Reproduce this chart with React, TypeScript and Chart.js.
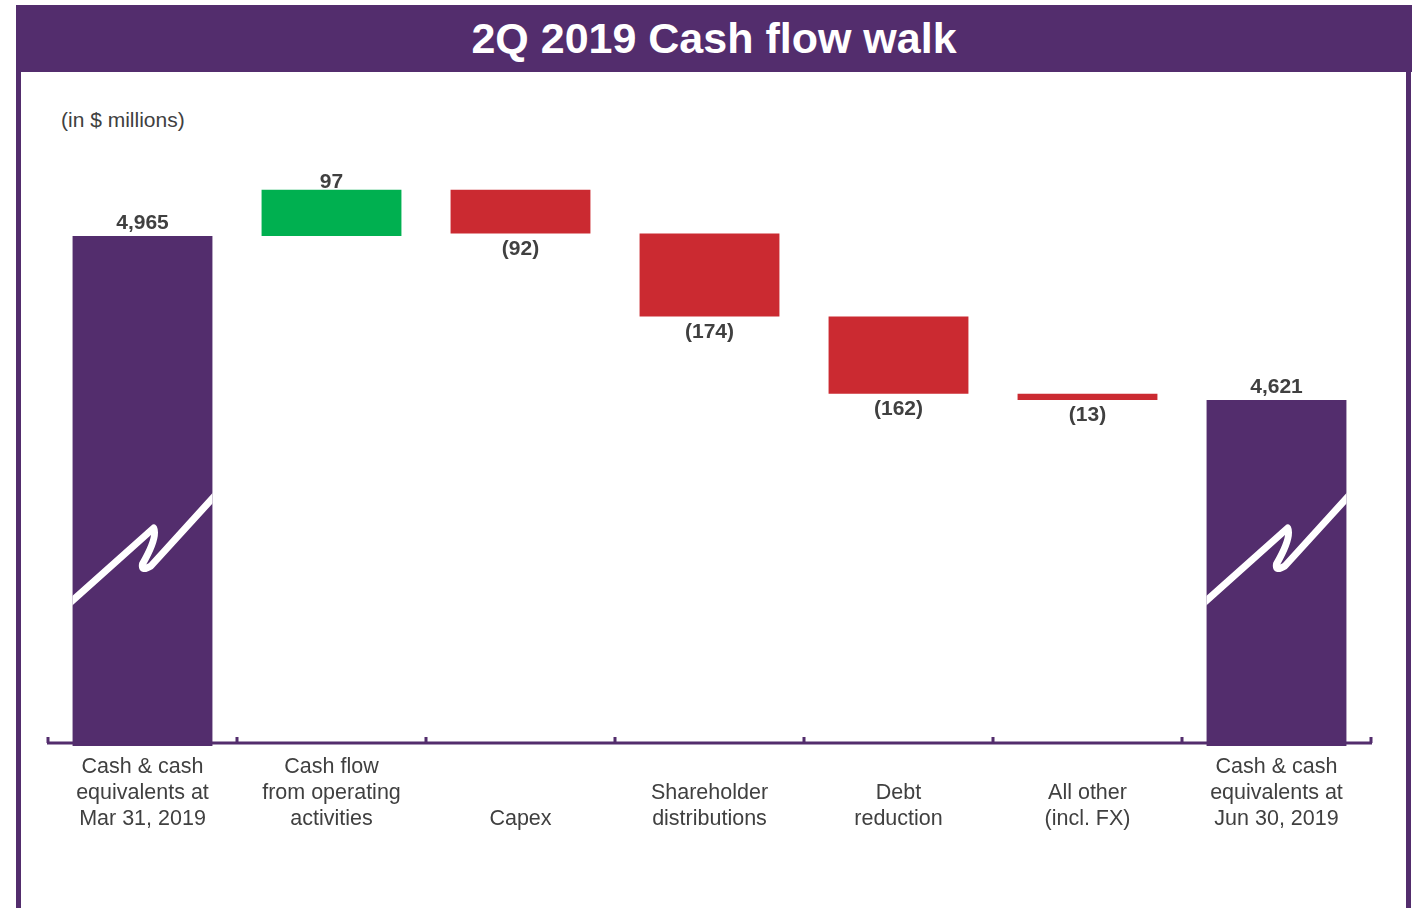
import React, { useEffect, useRef } from "react";
import { Chart, registerables } from "chart.js";

Chart.register(...registerables);

// ---- data ----
const categories: string[][] = [
  ["Cash & cash", "equivalents at", "Mar 31, 2019"],
  ["Cash flow", "from operating", "activities"],
  ["Capex"],
  ["Shareholder", "distributions"],
  ["Debt", "reduction"],
  ["All other", "(incl. FX)"],
  ["Cash & cash", "equivalents at", "Jun 30, 2019"],
];
const changes: number[] = [4965, 97, -92, -174, -162, -13, 4621];
const isTotal: boolean[] = [true, false, false, false, false, false, true];
const valueLabels: string[] = ["4,965", "97", "(92)", "(174)", "(162)", "(13)", "4,621"];
const AXIS_MIN = 3895;
const AXIS_MAX = 5200;

const TITLE = "2Q 2019 Cash flow walk";
const UNITS = "(in $ millions)";

// ---- styles ----
const PURPLE = "#532D6D";
const GREEN = "#00B050";
const RED = "#CB2A31";
const TEXT = "#404040";
const FONT = "'Liberation Sans', Arial, Helvetica, sans-serif";

function buildRanges(): [number, number][] {
  let running = 0;
  return changes.map((v, i) => {
    if (isTotal[i]) {
      running = v;
      return [AXIS_MIN, v] as [number, number];
    }
    const start = running;
    running += v;
    return [Math.min(start, running), Math.max(start, running)] as [number, number];
  });
}

const paddedLabels = categories.map((c) => [...Array(3 - c.length).fill(""), ...c]);

const waterfallDecor = {
  id: "waterfallDecor",
  afterDatasetsDraw(chart: any) {
    const ctx: CanvasRenderingContext2D = chart.ctx;
    const area = chart.chartArea;
    const meta = chart.getDatasetMeta(0);
    const xScale = chart.scales.x;

    // break marks on totals
    meta.data.forEach((bar: any, i: number) => {
      if (!isTotal[i]) return;
      const w = bar.width;
      const x0 = bar.x - w / 2;
      const yb = area.bottom - 146;
      ctx.save();
      ctx.beginPath();
      ctx.rect(x0, bar.y, w, bar.base - bar.y);
      ctx.clip();
      ctx.strokeStyle = "#ffffff";
      ctx.lineWidth = 7;
      ctx.lineJoin = "round";
      ctx.lineCap = "round";
      ctx.beginPath();
      ctx.moveTo(x0 - 4, yb + 4);
      ctx.lineTo(x0 + 0.58 * w, yb - 72);
      ctx.quadraticCurveTo(x0 + 0.61 * w, yb - 63, x0 + 0.5 * w, yb - 36);
      ctx.quadraticCurveTo(x0 + 0.49 * w, yb - 28, x0 + 0.56 * w, yb - 34);
      ctx.lineTo(x0 + w + 4, yb - 106);
      ctx.stroke();
      ctx.restore();
    });

    // axis line with upward ticks
    const axisY = area.bottom - 3;
    const n = categories.length;
    const step = (area.right - area.left) / n;
    ctx.save();
    ctx.strokeStyle = PURPLE;
    ctx.fillStyle = PURPLE;
    ctx.lineWidth = 3;
    ctx.beginPath();
    ctx.moveTo(area.left - 1, axisY);
    ctx.lineTo(area.right + 1, axisY);
    ctx.stroke();
    for (let k = 0; k <= n; k++) {
      const x = k < n ? xScale.getPixelForValue(k) - step / 2 : xScale.getPixelForValue(n - 1) + step / 2;
      ctx.fillRect(x - 1.5, axisY - 6, 3, 6);
    }
    ctx.restore();

    // value labels
    ctx.save();
    ctx.font = `bold 21px ${FONT}`;
    ctx.fillStyle = TEXT;
    ctx.textAlign = "center";
    ctx.textBaseline = "alphabetic";
    meta.data.forEach((bar: any, i: number) => {
      const top = Math.min(bar.y, bar.base);
      const bottom = Math.max(bar.y, bar.base);
      if (changes[i] >= 0) {
        const off = isTotal[i] ? 7 : 2;
        ctx.fillText(valueLabels[i], bar.x, top - off);
      } else {
        ctx.fillText(valueLabels[i], bar.x, bottom + 21);
      }
    });
    ctx.restore();
  },
};

export default function App() {
  const ref = useRef<HTMLCanvasElement | null>(null);

  useEffect(() => {
    if (!ref.current) return;
    const ranges = buildRanges();
    const colors = changes.map((v, i) => (isTotal[i] ? PURPLE : v >= 0 ? GREEN : RED));
    const chart = new Chart(ref.current, {
      type: "bar",
      data: {
        labels: paddedLabels as any,
        datasets: [
          {
            data: ranges as any,
            backgroundColor: colors,
            borderWidth: 0,
            categoryPercentage: 1,
            barPercentage: 0.74,
          },
        ],
      },
      options: {
        responsive: false,
        animation: false,
        devicePixelRatio: 1,
        layout: { padding: { left: 48, right: 51, top: 124, bottom: 0 } },
        plugins: { legend: { display: false }, tooltip: { enabled: false }, title: { display: false } },
        scales: {
          y: {
            display: false,
            min: AXIS_MIN,
            max: AXIS_MAX,
          },
          x: {
            grid: { display: false, drawTicks: false },
            border: { display: false },
            ticks: {
              color: TEXT,
              font: { family: FONT, size: 21.5, lineHeight: 1.22 },
              padding: 8,
              maxRotation: 0,
              autoSkip: false,
            },
            afterFit: (scale: any) => {
              scale.height = 162;
            },
          },
        },
      },
      plugins: [waterfallDecor],
    });
    return () => chart.destroy();
  }, []);

  return (
    <div
      style={{
        position: "absolute",
        left: 0,
        top: 0,
        width: 1422,
        height: 908,
        background: "#ffffff",
        overflow: "hidden",
        fontFamily: FONT,
      }}
    >
      <div
        style={{
          position: "absolute",
          left: 16,
          top: 5,
          width: 1396,
          height: 67,
          background: PURPLE,
          color: "#ffffff",
          fontWeight: "bold",
          fontSize: 43,
          lineHeight: "67px",
          textAlign: "center",
        }}
      >
        {TITLE}
      </div>
      <div style={{ position: "absolute", left: 16, top: 72, width: 5, height: 836, background: PURPLE }} />
      <div style={{ position: "absolute", left: 1406, top: 72, width: 5, height: 836, background: PURPLE }} />
      <div
        style={{
          position: "absolute",
          left: 61,
          top: 107,
          fontSize: 21,
          color: TEXT,
          lineHeight: "26px",
        }}
      >
        {UNITS}
      </div>
      <canvas
        ref={ref}
        width={1422}
        height={908}
        style={{ position: "absolute", left: 0, top: 0, width: 1422, height: 908 }}
      />
    </div>
  );
}
